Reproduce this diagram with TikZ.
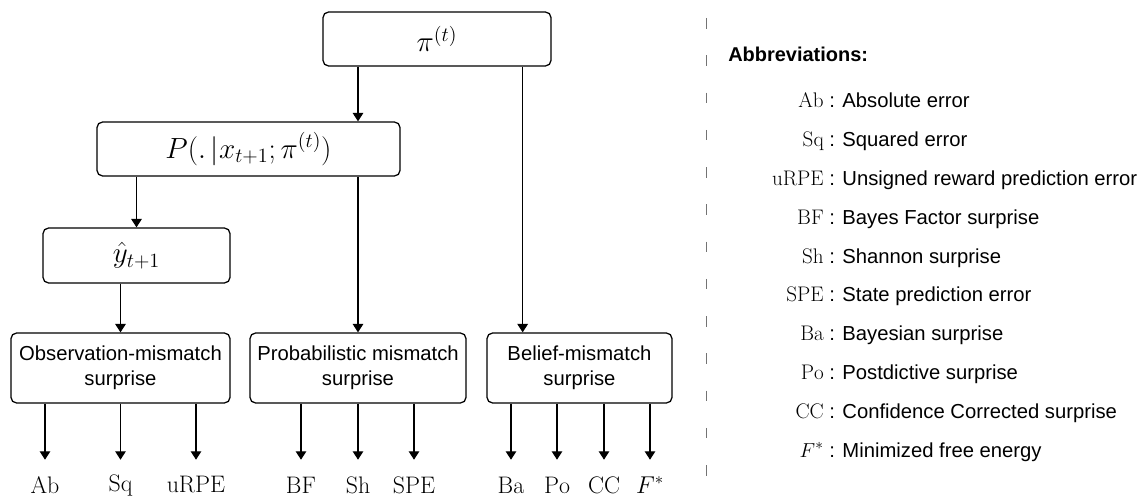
\documentclass[tikz,border=0pt]{standalone}
\usepackage{fontspec}
\newfontfamily\arialfont{Liberation Sans}
\usetikzlibrary{arrows.meta}

\tikzset{
  box/.style={draw, rounded corners=4pt, line width=0.9pt, inner sep=2pt, align=center},
  mathbox/.style={box, minimum height=1.35cm, font=\fontsize{20.5}{24}\selectfont},
  kindbox/.style={box, minimum height=1.75cm, font=\arialfont\fontsize{14.4}{17.8}\selectfont},
  arr/.style={-{Triangle[width=7.5pt,length=6pt]}, line width=0.9pt},
  lbl/.style={minimum height=1.25cm, inner sep=0pt, font=\fontsize{17}{20}\selectfont},
  key/.style={anchor=base east, inner sep=0pt, font=\fontsize{15}{18}\selectfont},
  desc/.style={anchor=base west, inner sep=0pt, font=\arialfont\fontsize{14.4}{17}\selectfont},
  sep/.style={black!55, line width=0.7pt, dash pattern=on 7.5pt off 19pt}
}

\begin{document}
\begin{tikzpicture}[x=0.025cm, y=-0.025cm]
\useasboundingbox (0,0) rectangle (1141,497);

%model boxes
\node[mathbox, minimum width=5.7cm] (pit) at (437,39) {$\pi^{(t)}$};
\node[mathbox, minimum width=7.575cm] (pcond) at (248.5,149) {$P(.\,|x_{t+1};\pi^{(t)})$};
\node[mathbox, minimum width=4.675cm, minimum height=1.375cm] (yhat) at (136.5,255.5) {$\hat{y}_{t+1}$};

%surprise kinds
\node[kindbox, minimum width=5.475cm] (obs) at (120.5,368) {Observation-mismatch\\surprise};
\node[kindbox, minimum width=5.4cm] (prob) at (358,368) {Probabilistic mismatch\\surprise};
\node[kindbox, minimum width=4.625cm] (belief) at (579.5,368) {Belief-mismatch\\surprise};

%links between boxes
\coordinate (pitap) at ([xshift=-0.725cm]pit.south east);
\draw[arr] (pit.south -| prob.north) -- (pcond.north -| prob.north);
\draw[arr] (pcond.south -| yhat.north) -- (yhat.north);
\draw[arr] (yhat.south -| obs.north) -- (obs.north);
\draw[arr] (pcond.south -| prob.north) -- (prob.north);
\draw[arr] (pitap) -- (pitap |- belief.north);

%measures
\node[lbl] (ab) at (45,485) {$\mathrm{Ab}$};
\node[lbl] (sq) at (120.5,485) {$\mathrm{Sq}$};
\node[lbl] (urpe) at (196,485) {$\mathrm{uRPE}$};
\node[lbl] (bf) at (301,485) {$\mathrm{BF}$};
\node[lbl] (sh) at (358,485) {$\mathrm{Sh}$};
\node[lbl] (spe) at (414,485) {$\mathrm{SPE}$};
\node[lbl] (ba) at (511,485) {$\mathrm{Ba}$};
\node[lbl] (po) at (557,485) {$\mathrm{Po}$};
\node[lbl] (cc) at (604,485) {$\mathrm{CC}$};
\node[lbl] (fstar) at (650,485) {$F^*$};

\draw[arr] (ab |- obs.south) -- (ab.north);
\draw[arr] (sq |- obs.south) -- (sq.north);
\draw[arr] (urpe |- obs.south) -- (urpe.north);
\draw[arr] (bf |- prob.south) -- (bf.north);
\draw[arr] (sh |- prob.south) -- (sh.north);
\draw[arr] (spe |- prob.south) -- (spe.north);
\draw[arr] (ba |- belief.south) -- (ba.north);
\draw[arr] (po |- belief.south) -- (po.north);
\draw[arr] (cc |- belief.south) -- (cc.north);
\draw[arr] (fstar |- belief.south) -- (fstar.north);

%separator
\draw[sep] (706,18) -- (706,497);

%legend
\node[anchor=base west, inner sep=0pt, font=\arialfont\bfseries\fontsize{14.2}{17}\selectfont] (abbr) at (728,62) {Abbreviations:};
\node[key] (kab) at (824,108) {$\mathrm{Ab}$};
\node[desc] (dab) at (829,108) {: Absolute error};
\node[key] (ksq) at (824,146.8) {$\mathrm{Sq}$};
\node[desc] (dsq) at (829,146.8) {: Squared error};
\node[key] (kurpe) at (824,185.6) {$\mathrm{uRPE}$};
\node[desc] (durpe) at (829,185.6) {: Unsigned reward prediction error};
\node[key] (kbf) at (824,224.4) {$\mathrm{BF}$};
\node[desc] (dbf) at (829,224.4) {: Bayes Factor surprise};
\node[key] (ksh) at (824,263.2) {$\mathrm{Sh}$};
\node[desc] (dsh) at (829,263.2) {: Shannon surprise};
\node[key] (kspe) at (824,302) {$\mathrm{SPE}$};
\node[desc] (dspe) at (829,302) {: State prediction error};
\node[key] (kba) at (824,340.8) {$\mathrm{Ba}$};
\node[desc] (dba) at (829,340.8) {: Bayesian surprise};
\node[key] (kpo) at (824,379.6) {$\mathrm{Po}$};
\node[desc] (dpo) at (829,379.6) {: Postdictive surprise};
\node[key] (kcc) at (824,418.4) {$\mathrm{CC}$};
\node[desc] (dcc) at (829,418.4) {: Confidence Corrected surprise};
\node[key] (kfstar) at (824,457.2) {$F^*$};
\node[desc] (dfstar) at (829,457.2) {: Minimized free energy};

\end{tikzpicture}
\end{document}
